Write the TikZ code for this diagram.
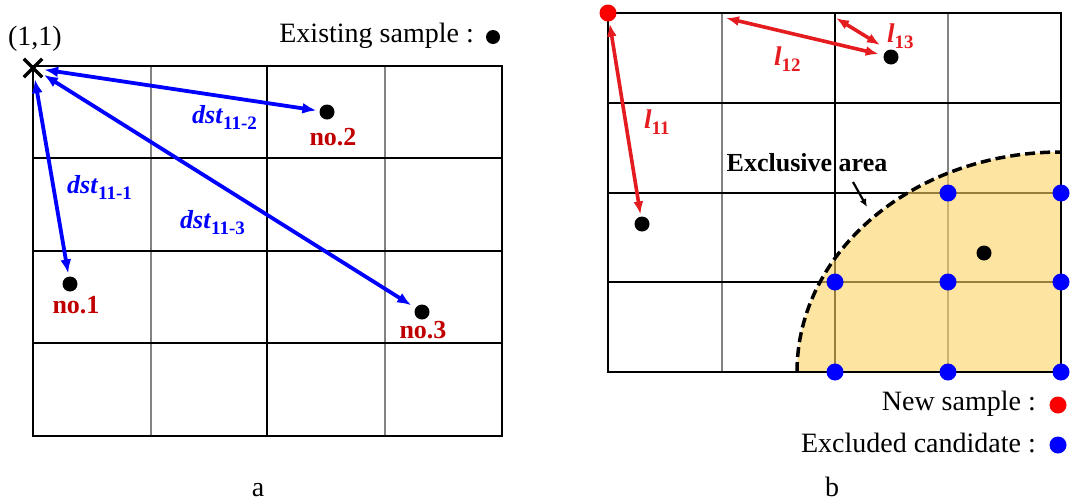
\documentclass[tikz,border=0pt]{standalone}
\usepackage{fontspec}
\setmainfont{Liberation Serif}
\usetikzlibrary{arrows.meta,shapes.misc}
\definecolor{dred}{RGB}{192,0,0}
\definecolor{ared}{RGB}{228,28,32}
\definecolor{rdot}{RGB}{250,0,0}
\definecolor{bl}{RGB}{0,0,255}
\definecolor{excl}{RGB}{252,210,97}
\definecolor{gline}{RGB}{130,130,130}
\newcommand\dstlab[1]{\textbf{\textit{dst}}\raisebox{-6pt}{\fontsize{19}{19}\selectfont\bfseries #1}}
\newcommand\llab[1]{\textbf{\textit{l}}\raisebox{-6pt}{\fontsize{19}{19}\selectfont\bfseries #1}}
\begin{document}
\begin{tikzpicture}[x=1pt,y=-1pt,
  blk/.style={line width=2.4pt,black},
  gry/.style={line width=1.8pt,gline},
  dot/.style={circle,fill=black,inner sep=0pt,minimum size=15pt},
  bdot/.style={circle,fill=bl,inner sep=0pt,minimum size=17pt},
  rdotst/.style={circle,fill=rdot,inner sep=0pt,minimum size=17pt},
  barrow/.style={bl,line width=3.8pt,{Latex[length=14pt,width=11pt]}-{Latex[length=14pt,width=11pt]}},
  rarrow/.style={ared,line width=3.6pt,{Latex[length=13pt,width=10pt]}-{Latex[length=13pt,width=10pt]}},
  txt/.style={font=\fontsize{28}{30}\selectfont,inner sep=0pt},
  nolab/.style={font=\fontsize{26}{28}\selectfont\bfseries,text=dred,inner sep=0pt},
  dstst/.style={font=\fontsize{26}{28}\selectfont,text=bl,inner sep=0pt,anchor=base west},
  lst/.style={font=\fontsize{27}{28}\selectfont,text=ared,inner sep=0pt,anchor=base west}]
\useasboundingbox (0,0) rectangle (1070,501);

% ---------- panel a ----------
\foreach \x in {151,385} \draw[gry] (\x,66) -- (\x,436);
\draw[blk] (267,66) -- (267,436);
\foreach \y in {158,251,343} \draw[blk] (33,\y) -- (502,\y);
\draw[blk] (33,66) rectangle (502,436);

\node[cross out,draw,line width=3.4pt,minimum size=15pt,inner sep=0pt] (cross) at (33,68) {};
\node[txt] (c11) at (35,39) {(1,1)};

\node[dot] (d1) at (70,284) {};
\node[dot] (d2) at (327,112) {};
\node[dot] (d3) at (422,312) {};
\node[nolab] (n1) at (76,305) {no.1};
\node[nolab] (n2) at (333,137) {no.2};
\node[nolab] (n3) at (423,330) {no.3};

\draw[barrow,shorten <=2pt,shorten >=3pt] (cross) -- (d1);
\draw[barrow,shorten <=2pt,shorten >=3pt] (cross) -- (d2);
\draw[barrow,shorten <=2pt,shorten >=5pt] (cross) -- (d3);

\node[dstst] (t1) at (67,193) {\dstlab{11-1}};
\node[dstst] (t2) at (192,123) {\dstlab{11-2}};
\node[dstst] (t3) at (180,228) {\dstlab{11-3}};

\node[txt,anchor=east] (leg1) at (474,36) {Existing sample :};
\node[dot,minimum size=14pt] (leg1d) at (493,37) {};

\node[txt,anchor=base] (capa) at (258,496) {a};

% ---------- panel b ----------
\foreach \x in {722,948} \draw[gry] (\x,13) -- (\x,372);
\draw[blk] (835,13) -- (835,372);
\foreach \y in {103,193,282} \draw[blk] (608,\y) -- (1061,\y);
\draw[blk] (608,13) rectangle (1061,372);

\fill[excl,fill opacity=0.6] (797,372) arc[start angle=180,end angle=270,x radius=264,y radius=220] -- (1061,372) -- cycle;
\draw[blk] (797,372) -- (1061,372) -- (1061,152);
\draw[black,line width=3.5pt,dash pattern=on 10pt off 5pt] (797,372) arc[start angle=180,end angle=270,x radius=264,y radius=220];

\node[rdotst] (ns) at (608,13) {};
\node[dot] (b1) at (891,57) {};
\node[dot] (b2) at (642,224) {};
\node[dot] (b3) at (984,253) {};

\foreach \x/\y [count=\i] in {948/193,1061/193,835/282,948/282,1061/282,835/372,948/372,1061/372}
  \node[bdot] (e\i) at (\x,\y) {};

\coordinate (l12s) at (726,18);
\coordinate (l13s) at (836,18);
\coordinate (l13e) at (880,45);
\draw[rarrow,shorten <=2pt,shorten >=2pt] (ns) -- (b2);
\draw[rarrow,shorten >=5pt] (l12s) -- (b1);
\draw[rarrow] (l13s) -- (l13e);

\node[lst] (l11) at (644,128) {\llab{11}};
\node[lst] (l12) at (774,65) {\llab{12}};
\node[lst] (l13) at (887,42) {\llab{13}};

\node[font=\fontsize{26}{28}\selectfont\bfseries,inner sep=0pt] (ex) at (807,163) {Exclusive area};
\coordinate (exs) at (853,182);
\coordinate (exe) at (867,207);
\draw[line width=2.2pt,-{Latex[length=8pt,width=7pt]}] (exs) -- (exe);

\node[txt,anchor=east] (leg2) at (1036,404) {New sample :};
\node[rdotst] (leg2d) at (1058,405) {};
\node[txt,anchor=east] (leg3) at (1036,443) {Excluded candidate :};
\node[bdot] (leg3d) at (1058,445) {};

\node[txt,anchor=base] (capb) at (832,496) {b};
\end{tikzpicture}
\end{document}
